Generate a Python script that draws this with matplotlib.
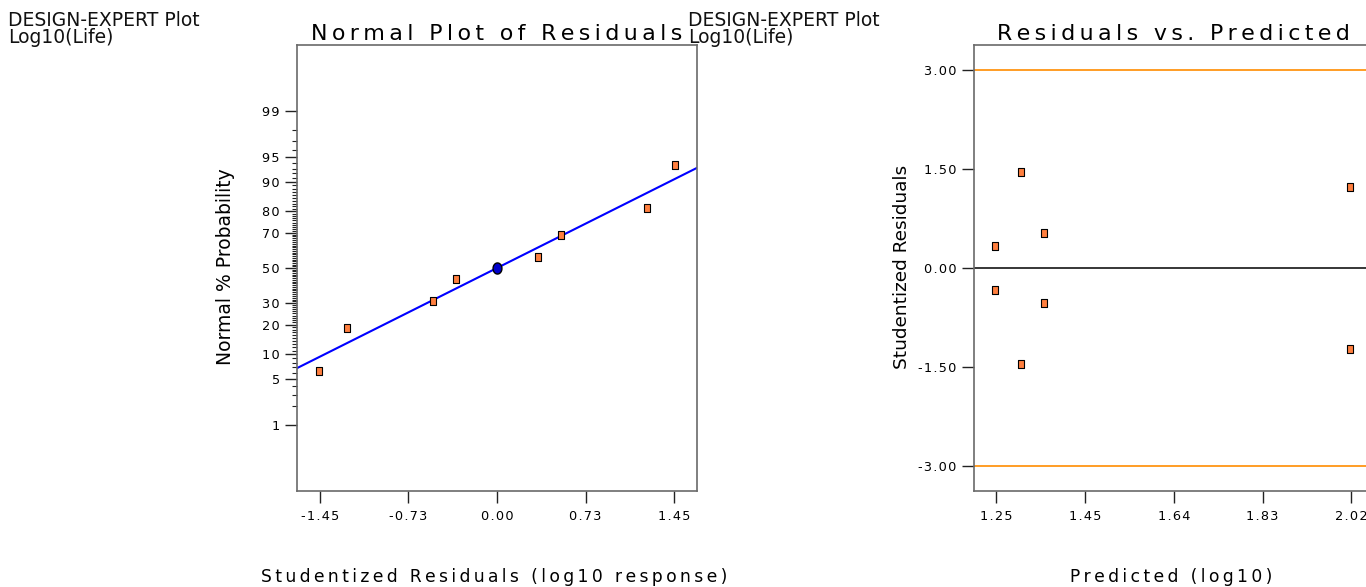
import matplotlib
matplotlib.use("Agg")
import matplotlib.pyplot as plt
import numpy as np
from statistics import NormalDist

plt.rcParams['font.family'] = ['DejaVu Sans']

W, H = 1366, 587

# studentized residuals vs predicted log10(life)
predicted = [1.250, 1.250, 1.306, 1.306, 1.357, 1.357, 2.020, 2.020]
residuals = [0.335, -0.335, 1.455, -1.455, 0.525, -0.525, 1.230, -1.230]
# normal plot positions (%) for the sorted residuals
normal_pct = [6.25, 18.75, 31.25, 43.75, 56.25, 68.75, 81.25, 93.75]
line_sd = 1.10          # reference line: residual units per z
center_pct = 50

prob_ticks = [1, 5, 10, 20, 30, 50, 70, 80, 90, 95, 99]
res_xticks = [-1.45, -0.725, 0.0, 0.725, 1.45]
res_xlabels = ['-1.45', '-0.73', '0.00', '0.73', '1.45']
pred_xticks = [1.2525, 1.445, 1.6375, 1.83, 2.0225]
pred_xlabels = ['1.25', '1.45', '1.64', '1.83', '2.02']
res_yticks = [-3.0, -1.5, 0.0, 1.5, 3.0]
res_ylabels = ['-3.00', '-1.50', '0.00', '1.50', '3.00']
outlier_limit = 3.0

ORANGE = '#ff7f3f'
SPINE = '#6a6a6a'
THIN = '\u2009'
HAIR = '\u200a'


def sp(s, gap=THIN):
    # letter-spaced text like the Design-Expert screen font
    return gap.join(s)


def z(p):
    return NormalDist().inv_cdf(p / 100.0)


box = [-0.75, 0.75, 0.75, -0.75, -0.75]
square = list(zip(box, [-1, -1, 1, 1, -1]))
t = np.linspace(0, 2 * np.pi, 40)
oval = list(zip(0.8 * np.cos(t), np.sin(t)))


def style(ax):
    for s in ax.spines.values():
        s.set_color(SPINE)
        s.set_linewidth(1.2)
    ax.tick_params(which='major', direction='out', length=8.5, width=1,
                   color='#222222', labelsize=9.3, top=False, right=False)
    ax.tick_params(axis='x', pad=5)
    ax.tick_params(axis='y', pad=4)


fig = plt.figure(figsize=(W / 100, H / 100), dpi=100)

# ---- left: normal plot of residuals ----
ax1 = fig.add_axes([297 / W, 96 / H, 400 / W, 446 / H])
style(ax1)
ax1.set_xlim(-1.635, 1.635)
ax1.set_ylim(-3.31, 3.31)
xl = np.array(ax1.get_xlim())
ax1.plot(xl, xl / line_sd, color='#0000ff', lw=1.5, zorder=2)
ax1.plot(sorted(residuals), [z(p) for p in normal_pct], ls='none', marker=square,
         ms=6.4, mfc=ORANGE, mec='black', mew=0.8, zorder=3)
ax1.plot([0.0], [z(center_pct)], ls='none', marker=oval, ms=8, mfc='#0000cc',
         mec='black', mew=1.0, zorder=4)
ax1.set_xticks(res_xticks)
ax1.set_xticklabels([sp(s, HAIR) for s in res_xlabels])
ax1.set_yticks([z(p) for p in prob_ticks])
ax1.set_yticklabels([sp(str(p), HAIR) for p in prob_ticks])
minor = [z(p) for p in range(1, 100) if p not in prob_ticks]
ax1.set_yticks(minor, minor=True)
ax1.tick_params(axis='y', which='minor', length=3.6, width=0.8, color='#222222')

# ---- right: residuals vs predicted ----
ax2 = fig.add_axes([973.7 / W, 96 / H, 400 / W, 446 / H])
style(ax2)
ax2.set_xlim(1.204, 2.071)
ax2.set_ylim(-3.385, 3.385)
for lim in (outlier_limit, -outlier_limit):
    ax2.axhline(lim, color='#ff8c00', lw=1.2, zorder=1)
ax2.axhline(0, color='black', lw=1.1, zorder=1)
ax2.plot(predicted, residuals, ls='none', marker=square, ms=6.4, mfc=ORANGE,
         mec='black', mew=0.8, zorder=3)
ax2.set_xticks(pred_xticks)
ax2.set_xticklabels([sp(s, HAIR) for s in pred_xlabels])
ax2.set_yticks(res_yticks)
ax2.set_yticklabels([sp(s, HAIR) for s in res_ylabels])

# ---- texts ----
for x0 in (8, 688):
    fig.text(x0 / W, 1 - 26 / H, 'DESIGN-EXPERT Plot', fontsize=13.5, va='baseline',
             color='#111111')
    fig.text(x0 / W, 1 - 43 / H, 'Log10(Life)', fontsize=13.5, va='baseline',
             color='#111111')

fig.text(497 / W, 1 - 39.5 / H, sp('Normal Plot of Residuals'), fontsize=15.9,
         ha='center', va='baseline')
fig.text(1173.7 / W, 1 - 39.5 / H, sp('Residuals vs. Predicted'), fontsize=15.9,
         ha='center', va='baseline')

fig.text(494 / W, 1 - 582 / H, sp('Studentized Residuals (log10 response)'),
         fontsize=12.3, ha='center', va='baseline')
fig.text(1171 / W, 1 - 582 / H, sp('Predicted (log10)'), fontsize=12.3,
         ha='center', va='baseline')

fig.text(230.7 / W, 1 - 267 / H, 'Normal % Probability', fontsize=13.5, rotation=90,
         rotation_mode='anchor', ha='center', va='baseline')
fig.text(907.3 / W, 1 - 267 / H, 'Studentized Residuals', fontsize=13.3, rotation=90,
         rotation_mode='anchor', ha='center', va='baseline')

fig.savefig('out.png', dpi=100)
